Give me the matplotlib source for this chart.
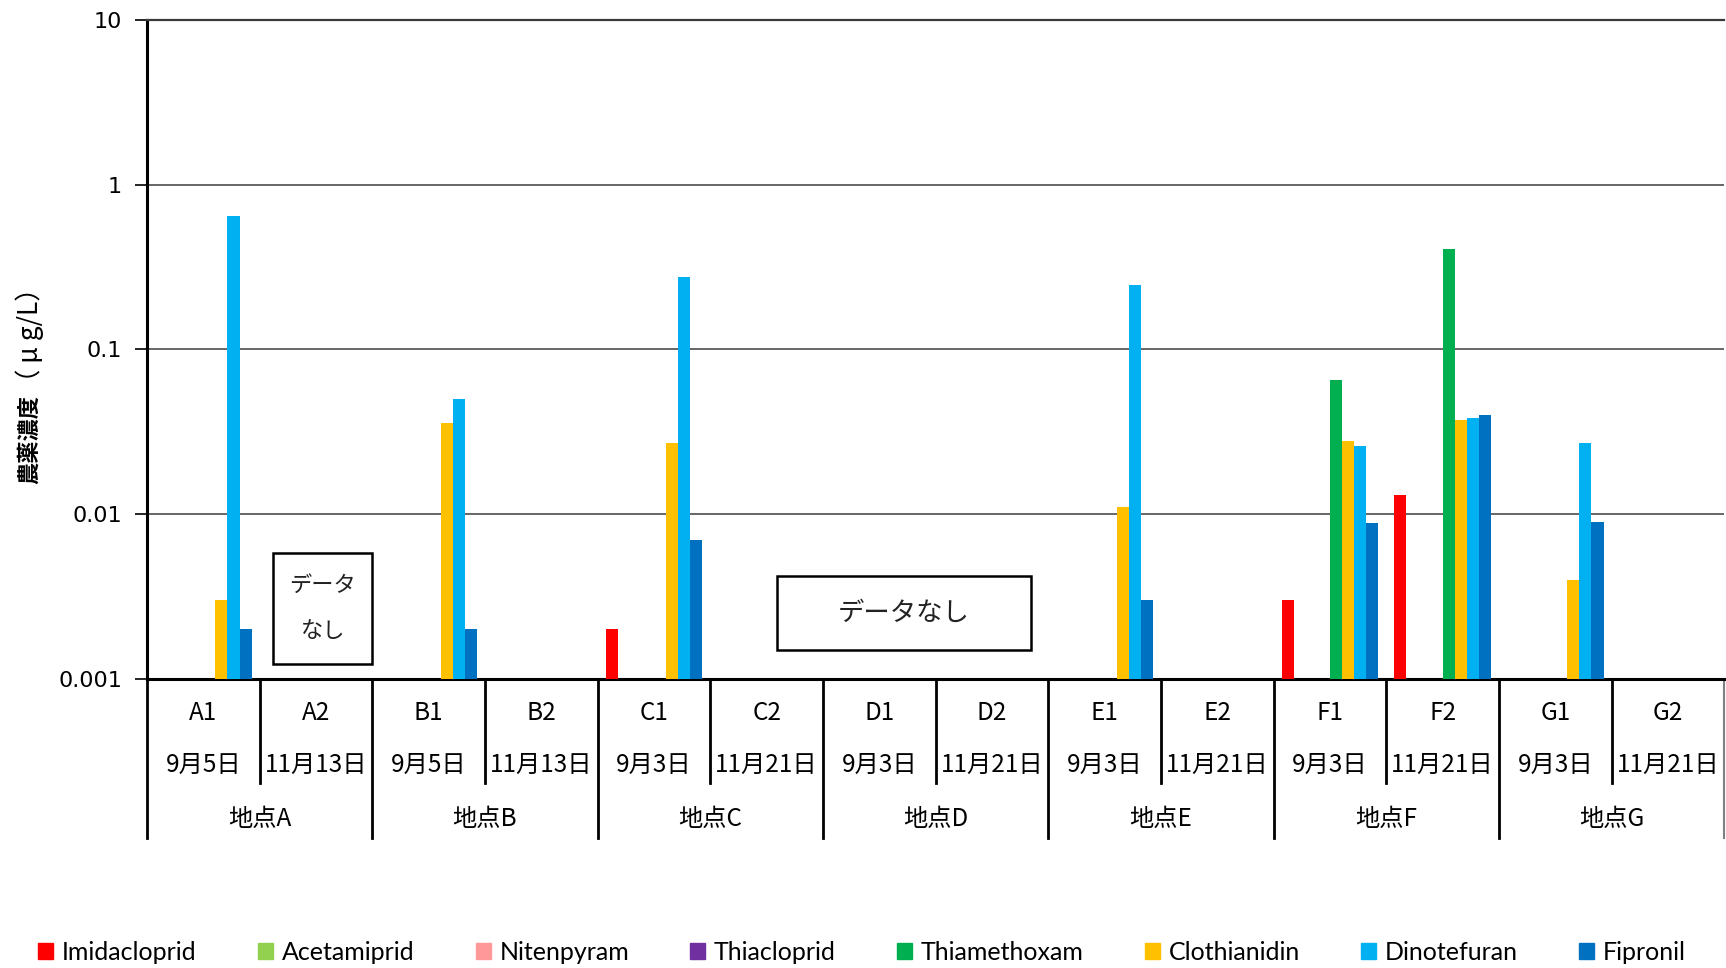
import numpy as np
import matplotlib
matplotlib.use("Agg")
import matplotlib.pyplot as plt
from matplotlib.patches import Patch, Rectangle
from matplotlib.transforms import blended_transform_factory

plt.rcParams['font.family'] = ['Noto Sans CJK JP', 'DejaVu Sans']

# --- data (ug/L; nan = not detected / no bar) ---
samples = ['A1', 'A2', 'B1', 'B2', 'C1', 'C2', 'D1', 'D2',
           'E1', 'E2', 'F1', 'F2', 'G1', 'G2']
dates = ['9月5日', '11月13日', '9月5日', '11月13日', '9月3日', '11月21日',
         '9月3日', '11月21日', '9月3日', '11月21日', '9月3日', '11月21日',
         '9月3日', '11月21日']
sites = ['地点A', '地点B', '地点C', '地点D', '地点E', '地点F', '地点G']

compounds = ['Imidacloprid', 'Acetamiprid', 'Nitenpyram', 'Thiacloprid',
             'Thiamethoxam', 'Clothianidin', 'Dinotefuran', 'Fipronil']
colors = ['#FF0000', '#92D050', '#FF9999', '#7030A0',
          '#00B050', '#FFC000', '#00B0F0', '#0070C0']

n = np.nan
imidacloprid = [n, n, n, n, 0.002, n, n, n, n, n, 0.003, 0.013, n, n]
acetamiprid = [n] * 14
nitenpyram = [n] * 14
thiacloprid = [n] * 14
thiamethoxam = [n, n, n, n, n, n, n, n, n, n, 0.065, 0.41, n, n]
clothianidin = [0.003, n, 0.036, n, 0.027, n, n, n, 0.011, n, 0.028, 0.0375, 0.004, n]
dinotefuran = [0.65, n, 0.05, n, 0.275, n, n, n, 0.245, n, 0.026, 0.0385, 0.027, n]
fipronil = [0.002, n, 0.002, n, 0.007, n, n, n, 0.003, n, 0.0088, 0.04, 0.009, n]
series = [imidacloprid, acetamiprid, nitenpyram, thiacloprid,
          thiamethoxam, clothianidin, dinotefuran, fipronil]

Y_MIN, Y_MAX = 0.001, 10

# ---------------------------------------------------------------------------
fig = plt.figure(figsize=(17.26, 9.68), dpi=100)
ax = fig.add_axes([0.0852, 0.2986, 0.9138, 0.6807])

x = np.arange(len(samples))
w = 0.107
for i, (vals, c) in enumerate(zip(series, colors)):
    v = np.array(vals, dtype=float)
    ax.bar(x + (i - 3.5) * w, v - Y_MIN, width=w, bottom=Y_MIN, color=c,
           label=compounds[i], zorder=3)

ax.set_yscale('log')
ax.set_ylim(Y_MIN, Y_MAX)
ax.set_xlim(-0.5, len(samples) - 0.5)
ax.set_yticks([0.001, 0.01, 0.1, 1, 10])
ax.set_yticklabels(['0.001', '0.01', '0.1', '1', '10'],
                   family='DejaVu Sans', fontsize=16)
ax.minorticks_off()
ax.tick_params(axis='y', direction='out', length=9, width=1.2, pad=9)
ax.set_xticks([])
ax.yaxis.grid(True, color='#5a5a5a', lw=1.3, zorder=0)

ax.spines['right'].set_visible(False)
ax.spines['top'].set_color('#3a3a3a')
ax.spines['top'].set_linewidth(1.6)
ax.spines['left'].set_linewidth(2.2)
ax.spines['bottom'].set_linewidth(2.2)

# multi-level category axis
tr = blended_transform_factory(ax.transData, ax.transAxes)
for i in range(len(samples)):
    ax.text(i, -0.052, samples[i], transform=tr, ha='center', va='center',
            fontsize=17.5)
    ax.text(i, -0.1305, dates[i], transform=tr, ha='center', va='center',
            fontsize=17.5)
for k, s in enumerate(sites):
    ax.text(2 * k + 0.5, -0.2124, s, transform=tr, ha='center', va='center',
            fontsize=17.5)
    ax.plot([2 * k - 0.5] * 2, [0, -0.241], transform=tr, color='black',
            lw=2, clip_on=False)
    ax.plot([2 * k + 0.5] * 2, [0, -0.158], transform=tr, color='black',
            lw=2, clip_on=False)
ax.plot([len(samples) - 0.5] * 2, [0, -0.241], transform=tr, color='#808080',
        lw=1.5, clip_on=False)

# "no data" boxes
ax.add_patch(Rectangle((0.62, 0.00123), 0.88, 0.00578 - 0.00123,
                       fill=False, ec='black', lw=1.8, zorder=4))
ax.text(1.06, 0.0027, 'データ\nなし', ha='center', va='center', fontsize=16,
        linespacing=2.2, color='#222222', zorder=5)
ax.add_patch(Rectangle((5.09, 0.0015), 2.26, 0.0042 - 0.0015,
                       fill=False, ec='black', lw=1.8, zorder=4))
ax.text(6.22, 0.0025, 'データなし', ha='center', va='center', fontsize=19,
        color='#222222', zorder=5)

# y label: bold part + unit
fig.text(0.017, 0.592, '農薬濃度', rotation=90, ha='center', va='top',
         fontsize=16, weight='bold')
fig.text(0.017, 0.592, '（ μ g/L）', rotation=90, ha='center', va='bottom',
         fontsize=19)

handles = [Patch(color=c, label=l) for c, l in zip(colors, compounds)]
fig.legend(handles=handles, ncol=8, loc='center', bbox_to_anchor=(0.4995, 0.0165),
           frameon=False, prop={'family': 'Lato', 'size': 18},
           handlelength=0.6, handleheight=0.6, handletextpad=0.35,
           columnspacing=2.45)

fig.savefig('out.png', dpi=100)
